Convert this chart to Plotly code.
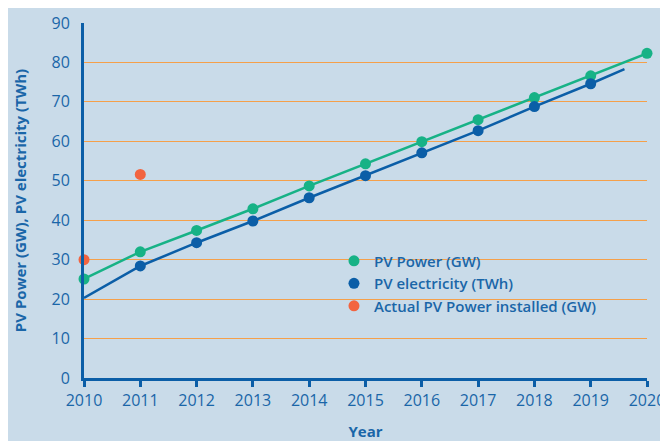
import plotly.graph_objects as go

# values
years = [2010, 2011, 2012, 2013, 2014, 2015, 2016, 2017, 2018, 2019, 2020]
pv_power_gw = [25.1, 32.0, 37.4, 42.9, 48.7, 54.3, 59.9, 65.5, 71.1, 76.6, 82.3]

elec_years = [2011, 2012, 2013, 2014, 2015, 2016, 2017, 2018, 2019]
pv_electricity_twh = [28.4, 34.3, 39.8, 45.7, 51.3, 57.1, 62.7, 68.8, 74.6]
# trend line for electricity runs a bit beyond the marked points
elec_line_years = [2010, 2011, 2012, 2013, 2014, 2015, 2016, 2017, 2018, 2019, 2019.6]
elec_line_values = [20.3, 28.4, 34.3, 39.8, 45.7, 51.3, 57.1, 62.7, 68.8, 74.6, 78.3]

actual_years = [2010, 2011]
actual_power_gw = [30.0, 51.6]

y_ticks = [0, 10, 20, 30, 40, 50, 60, 70, 80, 90]

bg = "#c9dbe9"
blue = "#0b5ea7"
green = "#17b286"
red = "#f26440"
text_blue = "#1a66a8"
grid_orange = "#f5a04a"
font_name = "Open Sans"

fig = go.Figure()

# lines first, no legend entry
fig.add_trace(
    go.Scatter(
        x=elec_line_years,
        y=elec_line_values,
        mode="lines",
        line=dict(color=blue, width=2.5),
        showlegend=False,
        hoverinfo="skip",
    )
)
fig.add_trace(
    go.Scatter(
        x=years,
        y=pv_power_gw,
        mode="lines",
        line=dict(color=green, width=2.5),
        showlegend=False,
        hoverinfo="skip",
    )
)

# markers carry the legend
fig.add_trace(
    go.Scatter(
        x=years,
        y=pv_power_gw,
        mode="markers",
        marker=dict(color=green, size=11),
        name="PV Power (GW)",
    )
)
fig.add_trace(
    go.Scatter(
        x=elec_years,
        y=pv_electricity_twh,
        mode="markers",
        marker=dict(color=blue, size=11),
        name="PV electricity (TWh)",
    )
)
fig.add_trace(
    go.Scatter(
        x=actual_years,
        y=actual_power_gw,
        mode="markers",
        marker=dict(color=red, size=11),
        name="Actual PV Power installed (GW)",
    )
)

fig.update_traces(cliponaxis=False)

# the page body adds an 8px offset, so the figure is sized to the visible area
fig.update_layout(
    width=660,
    height=433,
    paper_bgcolor=bg,
    plot_bgcolor=bg,
    margin=dict(l=76, r=21, t=15, b=63),
    font=dict(family=font_name, color=text_blue, size=16),
    legend=dict(
        x=0.444,
        y=0.376,
        xanchor="left",
        yanchor="top",
        bgcolor="rgba(0,0,0,0)",
        font=dict(size=15, color=text_blue, family=font_name, weight=600),
        tracegroupgap=0,
    ),
    showlegend=True,
)

fig.update_xaxes(
    range=[2010, 2020],
    tickmode="array",
    tickvals=years,
    ticks="outside",
    ticklen=6,
    tickwidth=3,
    tickcolor=blue,
    showline=True,
    linecolor=blue,
    linewidth=3,
    showgrid=False,
    zeroline=False,
    automargin=False,
    title=dict(text="<b>Year</b>", font=dict(size=15, color=text_blue), standoff=22),
    tickfont=dict(size=16, color=text_blue),
)
fig.update_yaxes(
    range=[0, 90],
    tickmode="array",
    tickvals=y_ticks,
    showline=True,
    linecolor=blue,
    linewidth=3,
    showgrid=True,
    gridcolor=grid_orange,
    gridwidth=1.2,
    zeroline=False,
    automargin=False,
    ticks="",
    ticklabelstandoff=8,
    tickfont=dict(size=16, color=text_blue),
    title=dict(
        text="<b>PV Power (GW), PV electricity (TWh)</b>",
        font=dict(size=15, color=text_blue),
        standoff=22,
    ),
)

fig.write_html("out.html")
